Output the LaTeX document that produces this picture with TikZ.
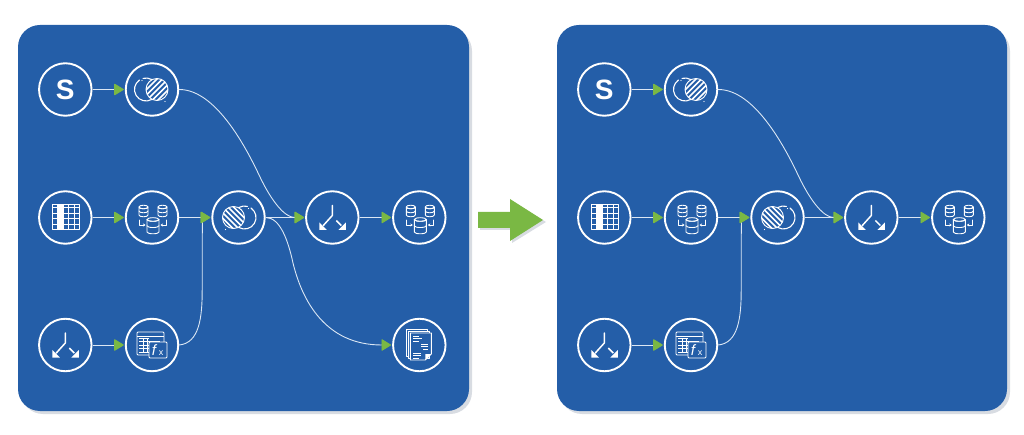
\documentclass[tikz,border=0pt]{standalone}
\usepackage{fontspec}
\setmainfont{Liberation Sans}
\usetikzlibrary{arrows.meta}
\definecolor{panelblue}{HTML}{245EA8}
\definecolor{shadowgrey}{HTML}{D8DCE2}
\definecolor{tipgreen}{HTML}{7AB844}
\definecolor{wirewhite}{HTML}{DCE7F4}
\newcommand{\cylicon}[4]{% x y halfwidth height
  \draw[iconline,fill=panelblue] (#1-#3,#2) -- (#1-#3,#2+#4) arc[start angle=180,end angle=0,x radius=#3,y radius=1.8] -- (#1+#3,#2) arc[start angle=0,end angle=180,x radius=#3,y radius=1.8] -- cycle;
  \draw[iconline] (#1,#2) ellipse[x radius=#3,y radius=1.8];
  \draw[iconline] (#1-#3,#2+#4*0.5) arc[start angle=180,end angle=0,x radius=#3,y radius=1.8];
}
\tikzset{
  iconline/.style={draw=white,line width=0.9pt,line cap=round,line join=round},
  flownode/.style={circle,draw=white,line width=1.9pt,minimum size=52.5pt,inner sep=0pt,fill=panelblue,text=white,font=\bfseries\fontsize{28}{28}\selectfont},
  wire/.style={draw=wirewhite,line width=0.9pt,shorten >=1pt,-{Triangle[length=10pt,width=12pt,fill=tipgreen,color=tipgreen,round]}},
  paneltile/.style={fill=panelblue,rounded corners=22pt},
  panelshade/.style={fill=shadowgrey,rounded corners=22pt},
  iconoverlap/.pic={
    \begin{scope}
      \clip (5,0) circle[radius=11];
      \foreach \k in {-22,-16.5,...,34} {\draw[white,line width=1.6pt] (\k-13,13) -- (\k+13,-13);}
    \end{scope}
    \draw[iconline] (5,0) circle[radius=11];
    \draw[iconline,line width=1.1pt] (-6,0) ++(60:11.5) arc[start angle=60,end angle=235,radius=11.5];
    \draw[iconline,line width=1.1pt] (-6,0) ++(255:11.5) arc[start angle=255,end angle=300,radius=11.5];
    \fill[white] (-10,-9) circle[radius=0.7] (13,12) circle[radius=0.7];
  },
  icontable/.pic={
    \fill[white] (-8,-13) rectangle (-1.5,12);
    \draw[iconline,line width=0.8pt] (-13,-13) rectangle (14,12);
    \foreach \cx in {-8,-1.5,3.5,9} {\draw[white,line width=0.7pt] (\cx,-13) -- (\cx,12);}
    \foreach \cy in {-10,-4,1,6.5} {\draw[white,line width=0.7pt] (-13,\cy) -- (14,\cy);}
  },
  icondb/.pic={
    \cylicon{-8.5}{-10.5}{4.5}{8}
    \cylicon{10.5}{-10.5}{4.5}{8}
    \cylicon{1}{2}{6}{12.5}
    \draw[iconline,line width=0.8pt,-{Stealth[length=2.5pt,width=3pt]}] (-12.7,2.5) -- (-12.7,7.5) -- (-6.5,7.5);
    \draw[iconline,line width=0.8pt,-{Stealth[length=2.5pt,width=3pt]}] (14.5,2.5) -- (14.5,7.5) -- (8.5,7.5);
  },
  iconmerge/.pic={
    \draw[white,line width=1.5pt,line cap=round,line join=round] (0,-12) -- (0,-2) -- (-9,8);
    \draw[white,line width=1.5pt] (4,3) -- (9,8);
    \fill[white] (-13,12.5) -- (-13,5) -- (-5.5,12.5) -- cycle;
    \fill[white] (13.5,12.5) -- (13.5,5) -- (6,12.5) -- cycle;
  },
  iconformula/.pic={
    \draw[iconline,rounded corners=1pt] (-15,-13) rectangle (12,10);
    \draw[white,line width=0.7pt] (-15,-9) -- (12,-9);
    \draw[white,line width=0.7pt] (-13,-7) -- (-3,-7) (-13,-3.5) -- (8,-3.5) (-13,0) -- (-3,0) (-13,3.5) -- (-3,3.5) (-13,7) -- (-3,7);
    \draw[white,line width=0.7pt] (-9,-7) -- (-9,8) (-5,-7) -- (-5,8);
    \draw[iconline,fill=panelblue,rounded corners=1pt] (-3,-3) rectangle (15,13);
    \node[text=white,font=\itshape\fontsize{15}{15}\selectfont,inner sep=0pt] at (2,5) {f};
    \node[text=white,font=\fontsize{9}{9}\selectfont,inner sep=0pt] at (9,8) {x};
  },
  icondoc/.pic={
    \draw[iconline,fill=panelblue] (-13,-16) rectangle (8,11);
    \draw[iconline,fill=panelblue] (-11,-14) rectangle (10,13);
    \draw[iconline,fill=panelblue] (-9,-12) -- (12,-12) -- (12,9) -- (6,15) -- (-9,15) -- cycle;
    \fill[white] (12,9) -- (6,9) -- (6,15) -- cycle;
    \draw[white,line width=0.9pt] (-6,-9) -- (0,-9) (-6,-6.5) -- (3,-6.5) (-6,-4) -- (0,-4);
    \draw[white,line width=0.9pt] (2,-1) -- (9,-1) (2,1.5) -- (9,1.5) (4,4) -- (9,4);
    \draw[white,line width=0.9pt] (-6,8) -- (2,8) (-6,10.5) -- (2,10.5) (-6,13) -- (0,13);
  }
}
\newcommand{\flowpanel}[1]{%
  \node[flownode] (#1s) at (65.3,89.5) {S};
  \node[flownode] (#1o) at (152,89.5) {};
  \node[flownode] (#1t) at (65.3,217.5) {};
  \node[flownode] (#1d) at (152,217.5) {};
  \node[flownode] (#1j) at (238.5,217.5) {};
  \node[flownode] (#1m) at (332.3,217.5) {};
  \node[flownode] (#1e) at (419.3,217.5) {};
  \node[flownode] (#1b) at (65.3,345) {};
  \node[flownode] (#1f) at (152,345) {};
  \pic at (#1o) {iconoverlap};
  \pic[xscale=-1] at (#1j) {iconoverlap};
  \pic at (#1t) {icontable};
  \pic at (#1d) {icondb};
  \pic at (#1e) {icondb};
  \pic at (#1m) {iconmerge};
  \pic at (#1b) {iconmerge};
  \pic at (#1f) {iconformula};
  \draw[wire] (#1s) -- (#1o);
  \draw[wire] (#1t) -- (#1d);
  \draw[wire] (#1d) -- (#1j);
  \draw[wire] (#1j) -- (#1m);
  \draw[wire] (#1m) -- (#1e);
  \draw[wire] (#1b) -- (#1f);
  \draw[wire] (#1o.east) .. controls (215,89.5) and (245,145) .. (260,177) .. controls (272,202) and (285,217.5) .. (#1m.west);
  \draw[wire] (#1f.east) .. controls +(20,-2) and +(0,28) .. ++(23,-55) -- ++(0,-48) .. controls +(0,-17) and +(-8,0) .. (#1j.west);
}
\begin{document}
\begin{tikzpicture}[x=1pt,y=-1pt]
  \useasboundingbox (0,0) rectangle (1024,435);
  \path[panelshade] (21,29) rectangle (472,414);
  \path[panelshade] (560,29) rectangle (1010,414);
  \path[paneltile] (18,25) rectangle (469,411);
  \path[paneltile] (557,25) rectangle (1007,411);
  \flowpanel{l}
  \node[flownode] (lr) at (419.3,345) {};
  \pic at (lr) {icondoc};
  \draw[wire] (lj.east) .. controls (280,217.5) and (288,240) .. (293,263) .. controls (302,300) and (325,345) .. (lr.west);
  \begin{scope}[xshift=539pt]
    \flowpanel{r}
  \end{scope}
  \path[fill=shadowgrey] (480,214) -- (512,214) -- (512,201) -- (546,222) -- (512,243) -- (512,230) -- (480,230) -- cycle;
  \path[fill=tipgreen] (478,212) -- (510,212) -- (510,199) -- (543,220) -- (510,241) -- (510,228) -- (478,228) -- cycle;
\end{tikzpicture}
\end{document}
